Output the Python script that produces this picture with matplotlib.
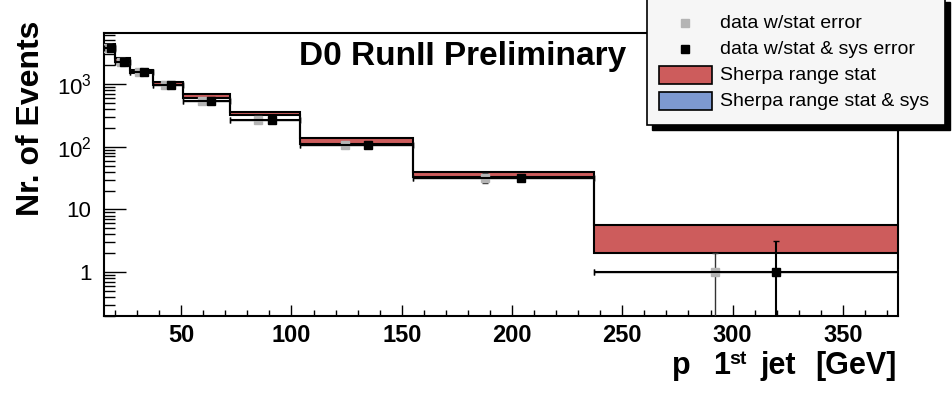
import numpy as np
import matplotlib
matplotlib.use('Agg')
import matplotlib.pyplot as plt
from matplotlib.patches import Rectangle
from matplotlib.lines import Line2D
from matplotlib.ticker import MultipleLocator, LogLocator, NullFormatter

plt.rcParams['font.family'] = ['Liberation Sans', 'DejaVu Sans']
plt.rcParams['mathtext.fontset'] = 'custom'
plt.rcParams['mathtext.rm'] = 'Liberation Sans'
plt.rcParams['mathtext.bf'] = 'Liberation Sans:bold'

# leading jet pT binning [GeV]
bin_edges = [15, 20, 27, 37, 51, 72, 104, 155, 237, 375]
# measured events per bin, stat and stat+sys errors
n_events = [3700, 2250, 1550, 950, 540, 270, 105, 32, 1]
stat_err = [61, 47, 39, 31, 23, 16, 10, 5.7, 1.0]
tot_err = [370, 225, 155, 95, 55, 28, 11, 4.0, 2.1]
# Sherpa prediction band (stat)
sherpa_lo = [3500, 2250, 1500, 950, 600, 322, 110, 33, 2.0]
sherpa_hi = [4300, 2550, 1700, 1080, 700, 362, 136, 40, 5.7]

RED = '#cd5c5c'
BLUE = '#7d99d1'
GREY = '#b4b4b4'

W, H = 952, 404
fig = plt.figure(figsize=(W / 100, H / 100), dpi=100)
ax = fig.add_axes([104 / W, 88 / H, 794 / W, 283 / H])


def px(x, y):
    return x / W, 1 - y / H


edges = np.array(bin_edges, float)
lo = np.array(sherpa_lo)
hi = np.array(sherpa_hi)
ax.stairs(hi, edges, baseline=lo, fill=True, color=RED, lw=0, zorder=1)
ax.stairs(hi, edges, baseline=None, color='k', lw=1.5, zorder=2)
ax.stairs(lo, edges, baseline=None, color='k', lw=1.5, zorder=2)

# data points, stat-only left of centre, stat+sys right of centre
width = np.diff(edges)
x_stat = edges[:-1] + 0.4 * width
x_tot = edges[:-1] + 0.6 * width
n = np.array(n_events, float)
ax.errorbar(x_stat, n, yerr=stat_err,
            xerr=[x_stat - edges[:-1], edges[1:] - x_stat],
            fmt='s', ms=6, mfc=GREY, mec=GREY, ecolor='0.2',
            elinewidth=1, capsize=2.5, zorder=3)
ax.errorbar(x_tot, n, yerr=tot_err,
            xerr=[x_tot - edges[:-1], edges[1:] - x_tot],
            fmt='s', ms=6, color='k', elinewidth=1.5, capsize=2.5, zorder=4)

ax.set_yscale('log')
ax.set_xlim(15, 375)
ax.set_ylim(0.2, 6500)

ax.xaxis.set_major_locator(MultipleLocator(50))
ax.xaxis.set_minor_locator(MultipleLocator(10))
ax.set_yticks([1, 10, 100, 1000], ['1', '10', r'$10^{2}$', r'$10^{3}$'])
ax.yaxis.set_minor_locator(LogLocator(subs=range(2, 10)))
ax.yaxis.set_minor_formatter(NullFormatter())

ax.tick_params(which='both', direction='in', top=False, right=False, width=1)
ax.tick_params(axis='x', which='major', length=8, labelsize=17, pad=6)
ax.tick_params(axis='x', which='minor', length=4)
ax.tick_params(axis='y', which='major', length=16, labelsize=16, pad=9)
ax.tick_params(axis='y', which='minor', length=8)
for lab in ax.get_xticklabels():
    lab.set_fontweight('bold')
for sp in ax.spines.values():
    sp.set_linewidth(1.5)

fig.text(*px(463, 57), 'D0 RunII Preliminary', ha='center', va='center',
         fontsize=24, weight='bold')
fig.text(*px(31, 118), 'Nr. of Events', rotation=90, ha='center',
         va='center', fontsize=23, weight='bold')

# x title pieced together: p_T (subscript lost), 1st jet [GeV]
xt = dict(va='baseline', fontsize=22, weight='bold')
fig.text(*px(672, 374), 'p', ha='left', **xt)
fig.text(*px(713, 374), '1', ha='left', **xt)
fig.text(*px(729, 364), 'st', ha='left', va='baseline', fontsize=14,
         weight='bold')
fig.text(*px(761, 374), 'jet', ha='left', **xt)
fig.text(*px(897, 374), '[GeV]', ha='right', **xt)

# legend box with drop shadow
x0, x1, y0, y1 = 647, 945, -3, 125
fig.add_artist(Rectangle(px(x0 + 5, y1 + 5), (x1 - x0) / W, (y1 - y0) / H,
                         transform=fig.transFigure, color='k', zorder=10))
fig.add_artist(Rectangle(px(x0, y1), (x1 - x0) / W, (y1 - y0) / H,
                         transform=fig.transFigure, fc='#f6f6f6', ec='k',
                         lw=1.2, zorder=11))
entries = [('marker', GREY, 'data w/stat error'),
           ('marker', 'k', 'data w/stat & sys error'),
           ('patch', RED, 'Sherpa range stat'),
           ('patch', BLUE, 'Sherpa range stat & sys')]
for i, (kind, col, label) in enumerate(entries):
    yc = 23 + 26 * i
    if kind == 'marker':
        fig.add_artist(Line2D(*zip(px(685, yc)), marker='s', ms=6, ls='',
                              mfc=col, mec=col, transform=fig.transFigure,
                              zorder=12))
    else:
        fig.add_artist(Rectangle(px(659, yc + 9), 53 / W, 18 / H,
                                 transform=fig.transFigure, fc=col, ec='k',
                                 lw=1.2, zorder=12))
    fig.text(*px(720, yc), label, ha='left', va='center', fontsize=14,
             zorder=13)

fig.savefig('out.png', dpi=100, facecolor='white')
